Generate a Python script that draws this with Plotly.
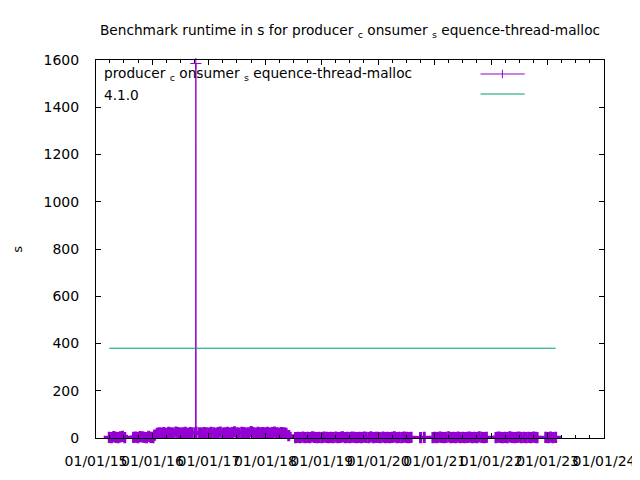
import plotly.graph_objects as go

# benchmark runs: (date, runtime in s)
dates_2015 = ["2015-03-28", "2015-04-12", "2015-04-26", "2015-05-10", "2015-05-24",
              "2015-06-07", "2015-06-21", "2015-07-06",
              "2015-09-01", "2015-09-15", "2015-09-29", "2015-10-13", "2015-10-27",
              "2015-11-10", "2015-11-24", "2015-12-08", "2015-12-22", "2016-01-05"]
runtime_2015 = [3, 2, 6, 3, 2, 5, 7, 2,
                3, 4, 2, 6, 5, 3, 2, 7, 3, 2]

dates_2016_18 = ["2016-01-15", "2016-02-01", "2016-02-15", "2016-03-01", "2016-03-15",
                 "2016-04-01", "2016-04-15", "2016-05-01", "2016-05-15", "2016-06-01",
                 "2016-06-15", "2016-07-01", "2016-07-15", "2016-08-01", "2016-08-15",
                 "2016-09-01", "2016-09-15", "2016-10-06", "2016-10-08", "2016-10-10",
                 "2016-11-01", "2016-11-15", "2016-12-01", "2016-12-15",
                 "2017-01-01", "2017-01-15", "2017-02-01", "2017-02-15", "2017-03-01",
                 "2017-03-15", "2017-04-01", "2017-04-15", "2017-05-01", "2017-05-15",
                 "2017-06-01", "2017-06-15", "2017-07-01", "2017-07-15", "2017-08-01",
                 "2017-08-15", "2017-09-01", "2017-09-15", "2017-10-01", "2017-10-15",
                 "2017-11-01", "2017-11-15", "2017-12-01", "2017-12-15",
                 "2018-01-01", "2018-01-15", "2018-02-01", "2018-02-15", "2018-03-01",
                 "2018-03-15", "2018-04-01", "2018-04-15", "2018-05-01", "2018-05-15",
                 "2018-06-01"]
runtime_2016_18 = [12, 20, 22, 21, 23, 20, 24, 22, 21, 25, 23, 21, 22, 24, 20, 23, 22, 21,
                   1585, 24, 22, 21, 23, 22,
                   21, 24, 22, 20, 23, 25, 21, 22, 24, 21, 23, 26, 22, 21, 24, 23, 21, 22,
                   27, 23, 21, 24, 22, 23,
                   22, 24, 21, 23, 25, 22, 21, 23, 22, 20, 10]

dates_2018_23 = ["2018-07-15", "2018-08-01", "2018-08-15", "2018-09-01", "2018-09-15",
                 "2018-10-01", "2018-10-15", "2018-11-01", "2018-11-15", "2018-12-01",
                 "2018-12-15",
                 "2019-01-01", "2019-01-15", "2019-02-01", "2019-02-15", "2019-03-01",
                 "2019-03-15", "2019-04-01", "2019-04-15", "2019-05-01", "2019-05-15",
                 "2019-06-01", "2019-06-15", "2019-07-01", "2019-07-15", "2019-08-01",
                 "2019-08-15", "2019-09-01", "2019-09-15", "2019-10-01", "2019-10-15",
                 "2019-11-01", "2019-11-15", "2019-12-01", "2019-12-15",
                 "2020-01-01", "2020-01-15", "2020-02-01", "2020-02-15", "2020-03-01",
                 "2020-03-15", "2020-04-01", "2020-04-15", "2020-05-01", "2020-05-15",
                 "2020-06-01", "2020-06-15", "2020-07-01", "2020-07-15", "2020-08-01",
                 "2020-10-01", "2020-10-25", "2020-12-20",
                 "2021-01-01", "2021-01-15", "2021-02-01", "2021-02-15", "2021-03-01",
                 "2021-03-15", "2021-04-01", "2021-04-15", "2021-05-01", "2021-05-15",
                 "2021-06-01", "2021-06-15", "2021-07-01", "2021-07-15", "2021-08-01",
                 "2021-08-15", "2021-09-01", "2021-09-15", "2021-10-01", "2021-10-15",
                 "2021-11-01", "2021-11-15", "2021-12-01",
                 "2022-02-01", "2022-02-15", "2022-03-01", "2022-03-15", "2022-04-01",
                 "2022-04-15", "2022-05-01", "2022-05-15", "2022-06-01", "2022-06-15",
                 "2022-07-01", "2022-07-15", "2022-08-01", "2022-08-15", "2022-09-01",
                 "2022-09-15", "2022-10-01", "2022-10-15", "2022-10-25",
                 "2022-12-20", "2023-01-05", "2023-01-20", "2023-02-05", "2023-02-22"]
runtime_2018_23 = [2, 3, 2, 4, 2, 3, 2, 5, 3, 2, 3,
                   2, 4, 3, 2, 3, 2, 4, 2, 3, 5, 2, 3, 2, 4, 3, 2, 3, 2, 4, 3, 2, 5, 2, 3,
                   3, 2, 4, 2, 3, 2, 3, 5, 2, 3, 2, 4, 3, 2, 3,
                   2, 3, 2,
                   3, 2, 4, 3, 2, 3, 5, 2, 3, 2, 4, 2, 3, 2, 3, 4, 2, 3, 2, 5, 3, 2, 3,
                   2, 4, 3, 2, 3, 2, 5, 3, 2, 3, 4, 2, 3, 2, 3, 2, 4, 3, 2,
                   3, 2, 4, 2, 3]

release_label = "4.1.0"
release_value = 380

dates = dates_2015 + dates_2016_18 + dates_2018_23
runtime = runtime_2015 + runtime_2016_18 + runtime_2018_23

PURPLE = "#9400d3"
GREEN = "#009e73"
FONT = "DejaVu Sans"

fig = go.Figure()

# thin cross for the lone outlier, thicker ones so the dense runs merge into a band
cross_width = [1 if v > 1000 else 3 for v in runtime]

fig.add_trace(go.Scatter(
    x=dates,
    y=runtime,
    mode='lines+markers',
    line=dict(color=PURPLE, width=1),
    marker=dict(symbol='cross-thin', size=8, line=dict(color=PURPLE, width=cross_width)),
    cliponaxis=False,
    showlegend=False
))

# release marker drawn as a flat line over the whole run period
fig.add_trace(go.Scatter(
    x=[dates[0], dates[-1]],
    y=[release_value, release_value],
    mode='lines',
    line=dict(color=GREEN, width=1),
    showlegend=False
))

axis_common = dict(
    showline=True, linecolor='black', linewidth=1, mirror='ticks',
    ticks='inside', ticklen=5, tickcolor='black',
    showgrid=False, zeroline=False,
    tickfont=dict(family=FONT, size=14, color='black'),
)

fig.update_xaxes(
    type='date',
    range=['2015-01-01', '2024-01-01'],
    tick0='2015-01-01', dtick='M12', tickformat='%m/%d/%y',
    tickangle=0, ticklabelstandoff=10, ticklabeloverflow='allow',
    minor=dict(dtick='M3', ticks='inside', ticklen=3, tickcolor='black'),
    **axis_common
)
fig.update_yaxes(
    range=[0, 1600], dtick=200, ticklabelstandoff=13,
    **axis_common
)

# gnuplot-style key: text on the left, sample on the right
key_font = dict(family=FONT, size=13.7, color='black')
fig.add_annotation(
    xref='paper', yref='paper', x=0.012, y=0.963, xanchor='left', yanchor='middle',
    text="producer <sub>c</sub> onsumer <sub>s</sub> equence-thread-malloc",
    showarrow=False, font=key_font
)
fig.add_annotation(
    xref='paper', yref='paper', x=0.012, y=0.907, xanchor='left', yanchor='middle',
    text=release_label, showarrow=False, font=key_font
)
fig.add_shape(type='line', xref='paper', yref='paper', x0=0.757, x1=0.844, y0=0.963, y1=0.963,
              line=dict(color=PURPLE, width=1))
fig.add_shape(type='line', xref='paper', yref='paper', x0=0.800, x1=0.800, y0=0.952, y1=0.974,
              line=dict(color=PURPLE, width=1))
fig.add_shape(type='line', xref='paper', yref='paper', x0=0.757, x1=0.844, y0=0.910, y1=0.910,
              line=dict(color=GREEN, width=1))

# y axis title
fig.add_annotation(
    xref='paper', yref='paper', x=-0.156, y=0.5, xanchor='center', yanchor='middle',
    text="s", textangle=-90, showarrow=False, font=dict(family=FONT, size=13, color='black')
)

# the page body adds an 8px offset, so margins are shifted to keep the plot box in place
fig.update_layout(
    width=640, height=480,
    margin=dict(l=88, r=38, t=52, b=50),
    paper_bgcolor='white', plot_bgcolor='white',
    title=dict(
        text="Benchmark runtime in s for producer <sub>c</sub> onsumer <sub>s</sub> equence-thread-malloc",
        x=0.5, xref='paper', xanchor='center', y=1 - 22 / 480, yanchor='middle',
        font=dict(family=FONT, size=13.7, color='black')
    ),
    showlegend=False
)

fig.write_html("out.html")
